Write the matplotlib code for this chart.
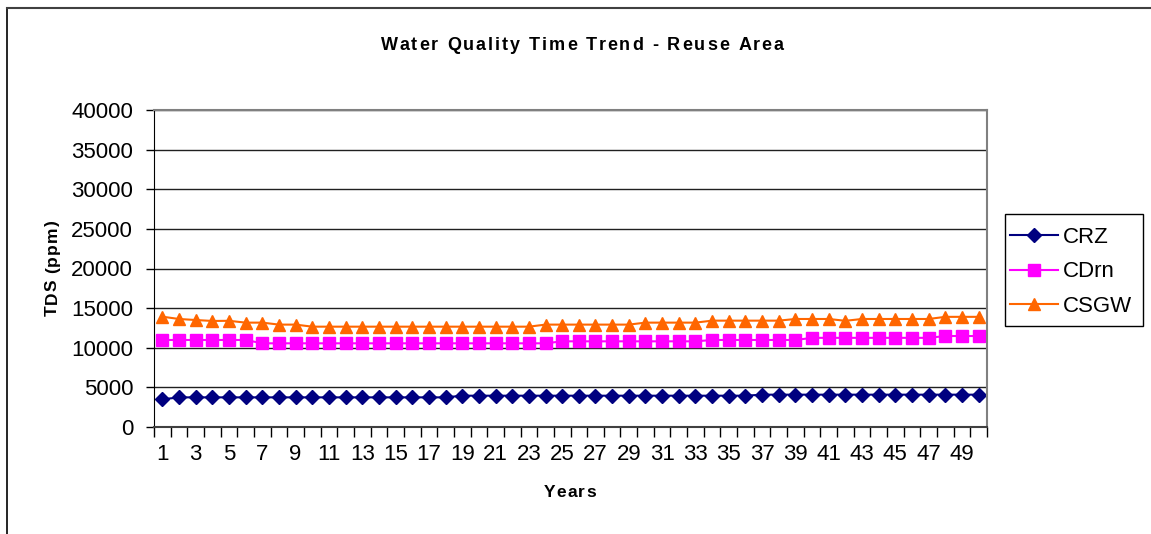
import matplotlib
matplotlib.use("Agg")
import matplotlib.pyplot as plt
from matplotlib.lines import Line2D
from matplotlib.patches import Rectangle
import numpy as np

plt.rcParams['font.family'] = ['Liberation Sans', 'DejaVu Sans']

years = list(range(1, 51))
crz = [3490] + [3740] * 17 + [3950] * 18 + [4080] * 14
cdrn = [10980] * 6 + [10560] * 18 + [10810] * 9 + [10980] * 6 + [11250] * 8 + [11480] * 3
csgw = ([13920, 13630, 13500, 13380, 13400, 13170, 13170, 12920, 12920]
        + [12660] * 14 + [12920] * 6 + [13170] * 4 + [13420] * 5
        + [13630] * 3 + [13400] + [13630] * 5 + [13900] * 3)
yticks = list(range(0, 40001, 5000))
xlabels = [str(y) for y in years if y % 2 == 1]

W, H = 1151, 534
fig = plt.figure(figsize=(W / 100, H / 100), dpi=100)
renderer = fig.canvas.get_renderer()


def tracked_text(s, cx, cy, track, rotation=0, **kw):
    """Draw text centred at pixel cx (or cy when rotated) with extra letter spacing.
    cy (or cx when rotated) is the baseline position in pixels (origin top-left)."""
    def width(t):
        tt = fig.text(0, 0, t, **kw)
        w = tt.get_window_extent(renderer).width
        tt.remove()
        return w
    bar = width('|')
    offs = [0 if i == 0 else width(s[:i] + '|') - bar for i in range(len(s))]
    total = width(s) + track * (len(s) - 1)
    for i, c in enumerate(s):
        if c == ' ':
            continue
        d = offs[i] + i * track - total / 2
        if rotation == 0:
            fig.text((cx + d) / W, 1 - cy / H, c, ha='left', va='baseline',
                     rotation_mode='anchor', **kw)
        else:
            fig.text(cx / W, 1 - (cy + total / 2 - offs[i] - i * track) / H, c,
                     ha='left', va='baseline', rotation=90, rotation_mode='anchor', **kw)


# outer chart border (left and top only visible)
fig.add_artist(Line2D([7 / W, 7 / W], [0, 1 - 8 / H], transform=fig.transFigure, color='#000000', lw=1.2))
fig.add_artist(Line2D([7 / W, 1], [1 - 8 / H, 1 - 8 / H], transform=fig.transFigure, color='#404040', lw=1.5))

left, right, top, bottom = 154, 987, 110, 427
ax = fig.add_axes([left / W, 1 - bottom / H, (right - left) / W, (bottom - top) / H])

ax.plot(years, crz, color='#000080', lw=1.5, marker='D', ms=7, label='CRZ')
ax.plot(years, cdrn, color='#FF00FF', lw=1.5, marker='s', ms=8, label='CDrn')
ax.plot(years, csgw, color='#FF6600', lw=1.5, marker='^', ms=9, label='CSGW')

ax.set_xlim(0.5, 50.5)
ax.set_ylim(0, 40000)
ax.set_yticks(yticks)
ax.set_yticklabels([str(v) for v in yticks], fontsize=16)
ax.set_xticks([y for y in years if y % 2 == 1])
ax.set_xticklabels(xlabels, fontsize=16)
ax.set_xticks(np.arange(0.5, 51, 1), minor=True)
ax.tick_params(axis='x', which='major', length=0, pad=12)
ax.tick_params(axis='x', which='minor', length=7, width=1, direction='out', color='black')
ax.tick_params(axis='y', which='major', length=6, width=1, direction='out', pad=9)

ax.grid(axis='y', color='#202020', lw=1)
ax.set_axisbelow(True)
for s in ['top', 'right']:
    ax.spines[s].set_color('#808080')
    ax.spines[s].set_linewidth(1.5)
ax.spines['left'].set_color('black')
ax.spines['bottom'].set_color('#404040')
ax.spines['bottom'].set_linewidth(1.5)

# titles with letter spacing like the original
tracked_text('Water Quality Time Trend - Reuse Area', 582, 50, 2.0, fontsize=13, fontweight='bold')
tracked_text('Years', 570, 497, 1.6, fontsize=12.5, fontweight='bold')
tracked_text('TDS (ppm)', 57, 268, 1.0, rotation=90, fontsize=12.5, fontweight='bold')

# legend
fig.add_artist(Rectangle((1005 / W, 1 - 326 / H), (1143 - 1005) / W, (326 - 214) / H,
                         transform=fig.transFigure, fill=False, edgecolor='black', lw=1))
fig.legend(loc='upper left', bbox_to_anchor=(1010 / W, 1 - 227 / H), fontsize=16,
           frameon=False, handlelength=2.15, borderpad=0, labelspacing=0.6,
           handletextpad=0.25, borderaxespad=0)

fig.savefig('out.png', dpi=100)
